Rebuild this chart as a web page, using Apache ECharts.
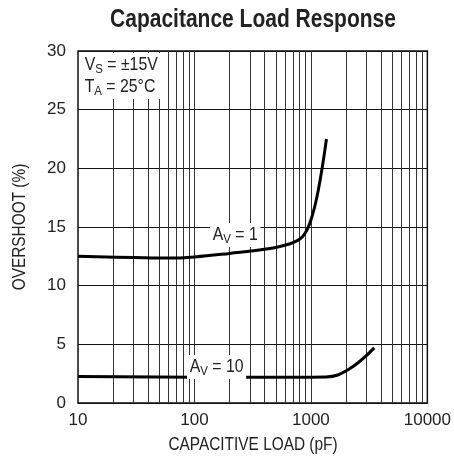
<!DOCTYPE html>
<html>
<head>
<meta charset="utf-8">
<script src="https://cdn.jsdelivr.net/npm/echarts@6/dist/echarts.min.js"></script>
<style>
  html, body { margin: 0; padding: 0; background: #fff; }
  #chart { width: 454px; height: 458px; }
</style>
</head>
<body>
<div id="chart"></div>
<script>
// capacitive load (pF) vs overshoot (%)
const av1Load = [10, 30, 60, 100, 200, 400, 650, 850, 1000, 1160, 1360]
const av1Overshoot = [12.5, 12.4, 12.35, 12.45, 12.75, 13.1, 13.55, 14.2, 15.6, 18.2, 22.5]
const av10Load = [10, 100, 700, 1350, 2100, 3500]
const av10Overshoot = [2.25, 2.2, 2.2, 2.22, 2.85, 4.7]

const xMin = 10
const xMax = 10000
const yTicks = [0, 5, 10, 15, 20, 25, 30]

// log grid lines at 2..9 of every decade
const gridX = []
for (let d = 10; d < xMax; d *= 10) {
  for (let k = 2; k <= 9; k++) gridX.push(d * k)
}
gridX.push(100, 1000)

const FONT = "'Liberation Sans', Arial, sans-serif"
const INK = '#222'

const chart = echarts.init(document.getElementById('chart'))

function pair(xs, ys) {
  return xs.map((x, i) => [x, ys[i]])
}

// text with a subscript, squeezed a bit to look like a condensed face
function subLabel(x, y, text, fontSize) {
  return {
    type: 'text',
    x: x, y: y,
    scaleX: 0.88,
    z: 10,
    style: {
      text: text,
      backgroundColor: '#fff',
      padding: [1, 3, 1, 3],
      rich: {
        a: { fontFamily: FONT, fontSize: fontSize, fill: INK, lineHeight: 22 },
        s: { fontFamily: FONT, fontSize: fontSize - 5, fill: INK, lineHeight: 22, padding: [8, 0, 0, 0] }
      }
    }
  }
}

const option = {
  animation: false,
  grid: {
    left: 78, right: 24, top: 51, bottom: 55,
    show: true, borderColor: '#111', borderWidth: 1.5
  },
  xAxis: {
    type: 'log',
    logBase: 10,
    min: xMin,
    max: xMax,
    axisLine: { show: false },
    axisTick: { show: false },
    axisLabel: { fontFamily: FONT, fontSize: 17, color: INK, margin: 9, formatter: v => String(v) },
    splitLine: { show: false }
  },
  yAxis: {
    type: 'value',
    min: yTicks[0],
    max: yTicks[yTicks.length - 1],
    interval: 5,
    axisLine: { show: false },
    axisTick: { show: false },
    axisLabel: { fontFamily: FONT, fontSize: 17, color: INK, margin: 12 },
    splitLine: { show: true, lineStyle: { color: '#111', width: 1 } }
  },
  series: [
    {
      type: 'line',
      data: [],
      silent: true,
      markLine: {
        silent: true,
        symbol: 'none',
        label: { show: false },
        lineStyle: { color: '#333', width: 1, type: 'solid' },
        data: gridX.map(v => ({ xAxis: v }))
      }
    },
    {
      name: 'AV = 1',
      type: 'line',
      data: pair(av1Load, av1Overshoot),
      smooth: 0.4,
      showSymbol: false,
      lineStyle: { color: '#000', width: 3 },
      z: 5
    },
    {
      name: 'AV = 10',
      type: 'line',
      data: pair(av10Load, av10Overshoot),
      smooth: 0.4,
      showSymbol: false,
      lineStyle: { color: '#000', width: 3 },
      z: 5
    }
  ],
  graphic: [
    {
      type: 'text',
      x: 253, y: 8,
      scaleX: 0.84,
      style: {
        text: 'Capacitance Load Response',
        fontFamily: FONT, fontWeight: 'bold', fontSize: 25, fill: INK,
        textAlign: 'center'
      }
    },
    {
      type: 'text',
      x: 253, y: 436,
      scaleX: 0.88,
      style: {
        text: 'CAPACITIVE LOAD (pF)',
        fontFamily: FONT, fontSize: 17.5, fill: INK,
        textAlign: 'center'
      }
    },
    {
      type: 'text',
      x: 11, y: 227,
      rotation: Math.PI / 2,
      scaleX: 0.88,
      style: {
        text: 'OVERSHOOT (%)',
        fontFamily: FONT, fontSize: 17.5, fill: INK,
        textAlign: 'center', textVerticalAlign: 'top'
      }
    },
    subLabel(82, 53, '{a|V}{s|S}{a| = ±15V}\n{a|T}{s|A}{a| = 25°C}', 18),
    subLabel(210, 223, '{a|A}{s|V}{a| = 1}', 18),
    subLabel(187, 355, '{a|A}{s|V}{a| = 10}', 18)
  ]
}

chart.setOption(option)
</script>
</body>
</html>
